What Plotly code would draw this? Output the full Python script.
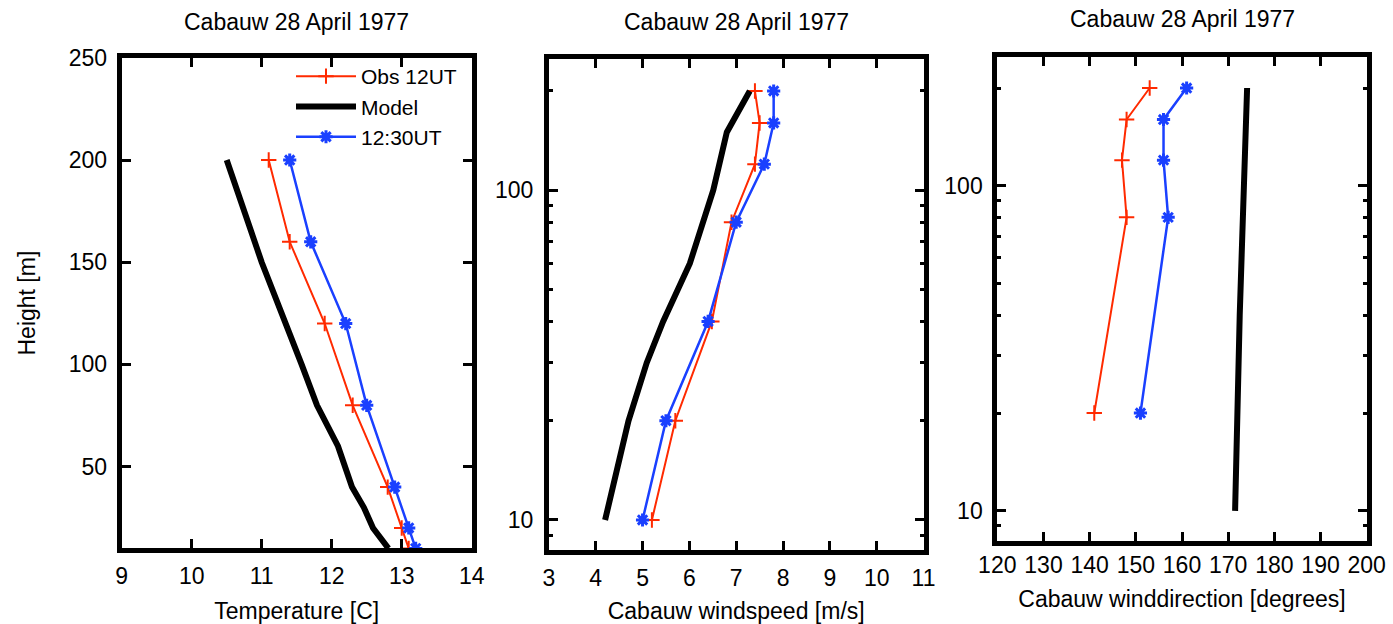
import plotly.graph_objects as go

W, H = 1393, 624

# ---------------- data ----------------
heights_obs = [10, 20, 40, 80, 120, 160, 200]
heights_model = [10, 20, 30, 40, 60, 80, 100, 150, 200]
heights_dir = [20, 80, 120, 160, 200]

temp_obs12 = [13.1, 13.0, 12.8, 12.3, 11.9, 11.4, 11.1]
temp_obs1230 = [13.2, 13.1, 12.9, 12.5, 12.2, 11.7, 11.4]
temp_model = [12.81, 12.59, 12.46, 12.29, 12.09, 11.79, 11.57, 11.0, 10.5]

speed_obs12 = [5.2, 5.7, 6.48, 6.9, 7.4, 7.5, 7.4]
speed_obs1230 = [5.0, 5.5, 6.4, 7.0, 7.6, 7.8, 7.8]
speed_model = [4.2, 4.7, 5.09, 5.44, 6.01, 6.3, 6.51, 6.8, 7.29]

dir_obs12 = [141, 148, 147, 148, 153]
dir_obs1230 = [151, 157, 156, 156, 161]
dir_model = [171.5, 171.9, 172.2, 172.5, 172.9, 173.2, 173.4, 173.8, 174.1]

names = ["Obs 12UT", "Model", "12:30UT"]
title_text = "Cabauw 28 April 1977"
xlabels = ["Temperature [C]", "Cabauw windspeed [m/s]", "Cabauw winddirection [degrees]"]
ylabel = "Height [m]"

RED = "#ff2a00"
BLUE = "#1a40ff"
FONT = "Liberation Sans, Arial, Helvetica, sans-serif"
FS = 23

fig = go.Figure()

def add_panel(idx, xobs12, hobs12, xmod, hmod, xobs1230, hobs1230):
    xa = "x" if idx == 1 else f"x{idx}"
    ya = "y" if idx == 1 else f"y{idx}"
    show = idx == 1
    fig.add_trace(go.Scatter(
        x=xobs12, y=hobs12, mode="lines+markers", name=names[0],
        line=dict(color=RED, width=2),
        marker=dict(symbol="cross-thin-open", size=11, line=dict(color=RED, width=2)),
        xaxis=xa, yaxis=ya, showlegend=show))
    fig.add_trace(go.Scatter(
        x=xmod, y=hmod, mode="lines", name=names[1],
        line=dict(color="black", width=6),
        xaxis=xa, yaxis=ya, showlegend=show))
    fig.add_trace(go.Scatter(
        x=xobs1230, y=hobs1230, mode="lines+markers", name=names[2],
        line=dict(color=BLUE, width=2.5),
        marker=dict(symbol="asterisk-open", size=11, line=dict(color=BLUE, width=3)),
        xaxis=xa, yaxis=ya, showlegend=show))

add_panel(1, temp_obs12, heights_obs, temp_model, heights_model, temp_obs1230, heights_obs)
add_panel(2, speed_obs12, heights_obs, speed_model, heights_model, speed_obs1230, heights_obs)
add_panel(3, dir_obs12, heights_dir, dir_model, heights_model, dir_obs1230, heights_dir)

def px_x(a, b):
    return [a / W, b / W]

def px_y(top, bottom):
    return [1 - bottom / H, 1 - top / H]

axis_common = dict(
    showline=True, linewidth=5, linecolor="black", mirror="allticks",
    ticks="inside", ticklen=9, tickwidth=3, tickcolor="black",
    showgrid=False, zeroline=False, automargin=False,
    tickfont=dict(family=FONT, size=FS, color="black"),
)

log_minor = dict(tickvals=[9, 20, 30, 40, 50, 60, 70, 80, 90, 200],
                 ticks="inside", ticklen=4, tickwidth=3, tickcolor="black")

fig.update_layout(
    width=W, height=H,
    margin=dict(l=0, r=0, t=0, b=0, autoexpand=False),
    paper_bgcolor="white", plot_bgcolor="white",
    font=dict(family=FONT, size=FS, color="black"),
    showlegend=True,
    legend=dict(x=462 / W, y=1 - 56 / H, xanchor="right", yanchor="top",
                bgcolor="rgba(0,0,0,0)", itemwidth=60, tracegroupgap=0,
                font=dict(family=FONT, size=21, color="black")),
    xaxis=dict(domain=px_x(121.7, 471.7), range=[9, 14], dtick=1, anchor="y",
               ticklabelstandoff=3,
               title=dict(text=xlabels[0], standoff=16, font=dict(size=FS)), **axis_common),
    yaxis=dict(domain=px_y(57.8, 548.4), range=[10, 250], tick0=0, dtick=50, anchor="x",
               ticklabelstandoff=5,
               title=dict(text=ylabel, standoff=28, font=dict(size=FS)), **axis_common),
    xaxis2=dict(domain=px_x(548.9, 923.5), range=[3, 11], dtick=1, anchor="y2",
                ticklabelstandoff=3,
                title=dict(text=xlabels[1], standoff=16, font=dict(size=FS)), **axis_common),
    yaxis2=dict(domain=px_y(59, 550), type="log", range=[0.909, 2.398],
                tickvals=[10, 100], ticktext=["10", "100"], anchor="x2",
                ticklabelstandoff=6, minor=log_minor, **axis_common),
    xaxis3=dict(domain=px_x(997.3, 1366.7), range=[120, 200], dtick=10, anchor="y3",
                title=dict(text=xlabels[2], standoff=15, font=dict(size=FS)), **axis_common),
    yaxis3=dict(domain=px_y(56.5, 540.5), type="log", range=[0.909, 2.398],
                tickvals=[10, 100], ticktext=["10", "100"], anchor="x3",
                ticklabelstandoff=5, minor=log_minor, **axis_common),
)

centers = [(121.7 + 471.7) / 2, (548.9 + 923.5) / 2, (997.3 + 1366.7) / 2]
title_y = [22, 22, 19]
for cx, ty in zip(centers, title_y):
    fig.add_annotation(text=title_text, x=cx / W, y=1 - ty / H, xref="paper", yref="paper",
                       xanchor="center", yanchor="middle", showarrow=False,
                       font=dict(family=FONT, size=FS, color="black"))

fig.write_html("out.html", config={"displayModeBar": False},
               post_script="document.body.style.margin='0';")
